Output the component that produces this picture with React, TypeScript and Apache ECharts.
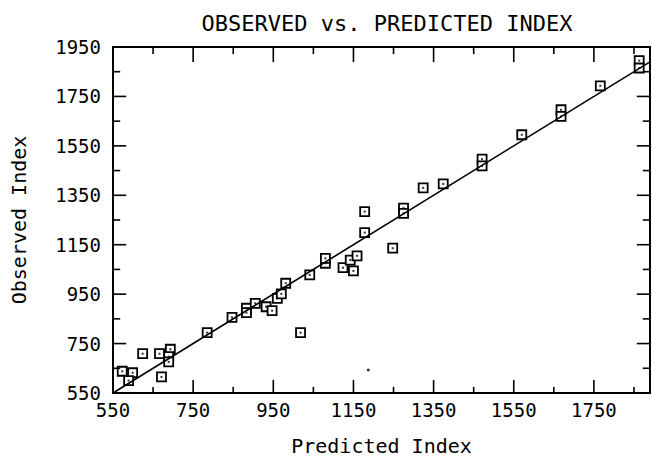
import React, { useEffect, useRef } from "react";
import * as echarts from "echarts";

const predicted = [573, 599, 589, 624, 666, 693, 689, 689, 671, 785, 847, 883, 883, 905, 932, 947, 960, 970, 981, 1018, 1041, 1080, 1080, 1124, 1142, 1159, 1150, 1178, 1178, 1248, 1275, 1275, 1324, 1374, 1471, 1471, 1570, 1668, 1668, 1766, 1863, 1863];
const observed = [638, 632, 600, 709, 709, 727, 697, 676, 615, 794, 856, 893, 875, 913, 899, 883, 933, 951, 994, 794, 1028, 1075, 1095, 1057, 1088, 1105, 1044, 1284, 1199, 1136, 1298, 1277, 1380, 1396, 1496, 1469, 1595, 1696, 1669, 1793, 1895, 1865];
const fitLine = [[550, 550], [1890, 1890]];
const strayMark = [[1187, 643]];
const xTickValues = [550, 650, 750, 850, 950, 1050, 1150, 1250, 1350, 1450, 1550, 1650, 1750, 1850];
const yTickValues = [550, 650, 750, 850, 950, 1050, 1150, 1250, 1350, 1450, 1550, 1650, 1750, 1850, 1950];
const xMin = 550;
const xMax = 1890;
const yMin = 550;
const yMax = 1950;
const majorStep = 200;
const titleText = "OBSERVED vs. PREDICTED INDEX";
const xName = "Predicted Index";
const yName = "Observed Index";

const FONT = "DejaVu Sans Mono";

export default function App() {
  const ref = useRef<HTMLDivElement>(null);
  useEffect(() => {
    if (!ref.current) return;
    const chart = echarts.init(ref.current, undefined, { renderer: "svg" });
    const points = predicted.map((p, i) => [p, observed[i]]);
    const frame = { color: "#000", width: 2 };

    // Tick marks drawn as thin rect symbols just inside the frame.
    const EPS = 0.5;
    const TW = 1.6;
    const clampX = (v: number) => Math.min(Math.max(v, xMin + EPS), xMax - EPS);
    const clampY = (v: number) => Math.min(Math.max(v, yMin + EPS), yMax - EPS);
    const tickItems: any[] = [];
    xTickValues.forEach((v) => {
      const major = (v - xMin) % majorStep === 0;
      const lb = major ? 13 : 6;
      const lt = major ? 15 : 7;
      tickItems.push({ value: [clampX(v), yMin + EPS], symbolSize: [TW, lb], symbolOffset: [0, -lb / 2] });
      tickItems.push({ value: [clampX(v), yMax - EPS], symbolSize: [TW, lt], symbolOffset: [0, lt / 2] });
    });
    yTickValues.forEach((v) => {
      const major = (v - yMin) % majorStep === 0;
      const len = major ? 13 : 7;
      tickItems.push({ value: [xMin + EPS, clampY(v)], symbolSize: [len, TW], symbolOffset: [len / 2, 0] });
      tickItems.push({ value: [xMax - EPS, clampY(v)], symbolSize: [len, TW], symbolOffset: [-len / 2, 0] });
    });

    chart.setOption({
      animation: false,
      backgroundColor: "#fff",
      title: {
        text: titleText,
        left: 382,
        textAlign: "center",
        top: 7,
        textStyle: { color: "#000", fontFamily: FONT, fontSize: 22, fontWeight: "normal" },
      },
      grid: { left: 113, top: 47, right: 2, bottom: 68, containLabel: false, outerBoundsMode: "none" },
      xAxis: [
        {
          type: "value",
          position: "bottom",
          min: xMin,
          max: xMax,
          interval: majorStep,
          splitLine: { show: false },
          axisLine: { show: true, onZero: false, lineStyle: frame },
          axisTick: { show: false },
          axisLabel: {
            show: true,
            margin: 7,
            color: "#000",
            fontFamily: FONT,
            fontSize: 19,
            showMaxLabel: false,
            formatter: (v: number) => ((v - xMin) % majorStep === 0 ? String(v) : ""),
          },
          name: xName,
          nameLocation: "middle",
          nameGap: 43,
          nameTextStyle: { color: "#000", fontFamily: FONT, fontSize: 20 },
        },
        {
          type: "value",
          position: "top",
          min: xMin,
          max: xMax,
          interval: majorStep,
          splitLine: { show: false },
          axisLine: { show: true, onZero: false, lineStyle: frame },
          axisTick: { show: false },
          axisLabel: { show: false },
        },
      ],
      yAxis: [
        {
          type: "value",
          position: "left",
          min: yMin,
          max: yMax,
          interval: majorStep,
          splitLine: { show: false },
          axisLine: { show: true, onZero: false, lineStyle: frame },
          axisTick: { show: false },
          axisLabel: {
            show: true,
            margin: 12,
            color: "#000",
            fontFamily: FONT,
            fontSize: 19,
            formatter: (v: number) => String(v),
          },
          name: yName,
          nameLocation: "middle",
          nameGap: 84,
          nameTextStyle: { color: "#000", fontFamily: FONT, fontSize: 20 },
        },
        {
          type: "value",
          position: "right",
          min: yMin,
          max: yMax,
          interval: majorStep,
          splitLine: { show: false },
          axisLine: { show: true, onZero: false, lineStyle: frame },
          axisTick: { show: false },
          axisLabel: { show: false },
        },
      ],
      series: [
        {
          type: "scatter",
          xAxisIndex: 0,
          yAxisIndex: 0,
          silent: true,
          clip: false,
          symbol: "rect",
          data: tickItems,
          itemStyle: { color: "#000", opacity: 1 },
          z: 10,
        },
        {
          type: "line",
          data: fitLine,
          xAxisIndex: 0,
          yAxisIndex: 0,
          symbol: "none",
          lineStyle: { color: "#000", width: 1.6 },
          silent: true,
        },
        {
          type: "scatter",
          data: points,
          xAxisIndex: 0,
          yAxisIndex: 0,
          symbol: "rect",
          symbolSize: 9,
          itemStyle: { color: "#fff", borderColor: "#000", borderWidth: 1.8, opacity: 1 },
        },
        {
          type: "scatter",
          data: points,
          xAxisIndex: 0,
          yAxisIndex: 0,
          symbol: "rect",
          symbolSize: 2,
          itemStyle: { color: "#000" },
        },
        {
          type: "scatter",
          data: strayMark,
          xAxisIndex: 0,
          yAxisIndex: 0,
          symbol: "circle",
          symbolSize: 3,
          itemStyle: { color: "#000" },
        },
      ],
    });

    return () => chart.dispose();
  }, []);
  return (
    <div
      ref={ref}
      style={{ position: "fixed", left: 0, top: 0, width: 652, height: 461, background: "#fff" }}
    />
  );
}
